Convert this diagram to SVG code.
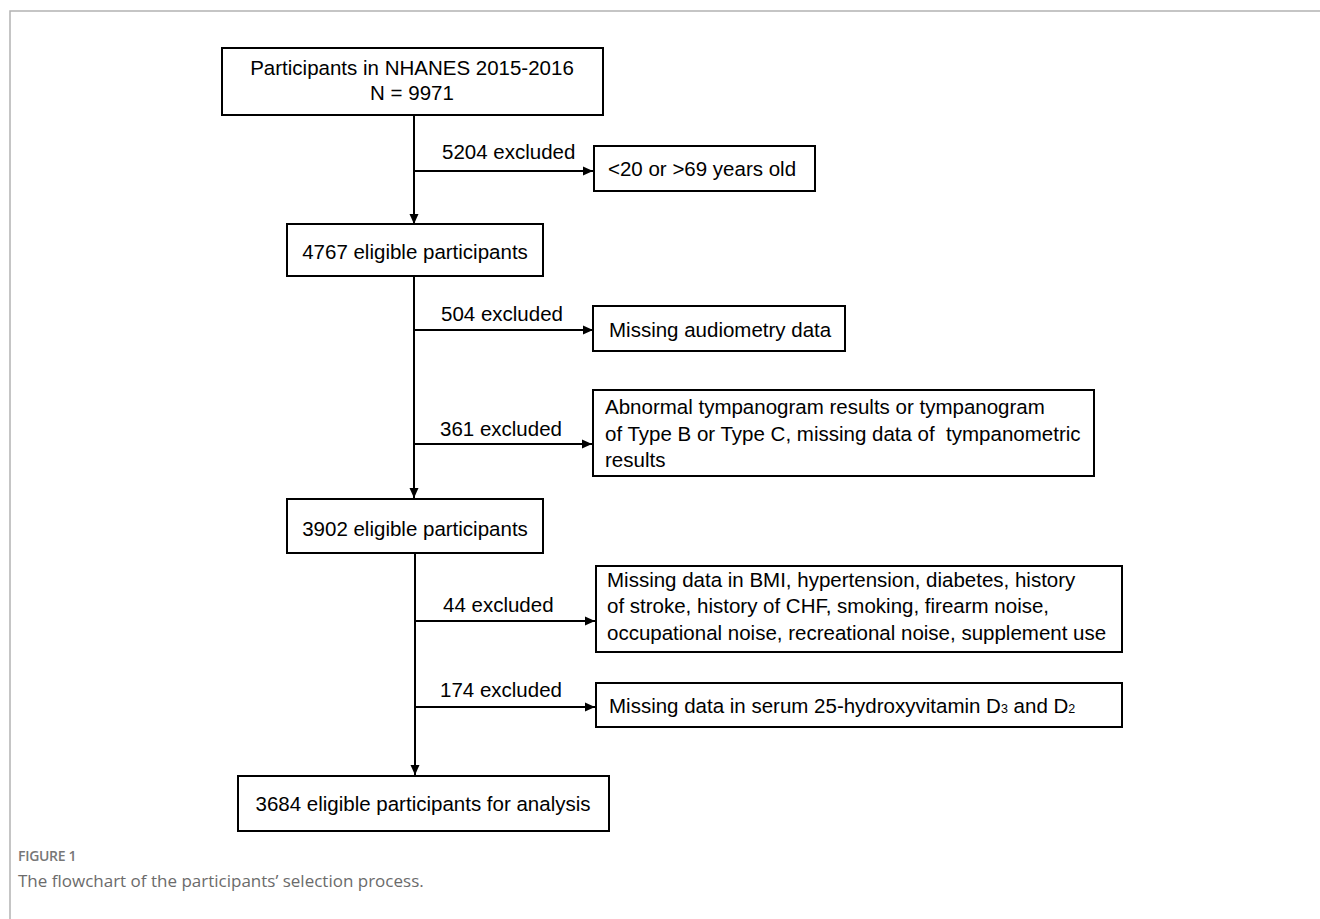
<svg xmlns="http://www.w3.org/2000/svg" width="1320" height="919" viewBox="0 0 1320 919">
<style>
.box{fill:#fff;stroke:#000;stroke-width:2}
.t{font-family:"Liberation Sans",Arial,sans-serif;font-size:20.5px;fill:#000}
.c{text-anchor:middle}
.conn{stroke:#000;stroke-width:2;fill:none}
.frame{stroke:#b3b3b3;stroke-width:1.5;fill:none}
.cap1{font-family:"Open Sans",Lato,sans-serif;font-size:14px;fill:#777;font-weight:600;letter-spacing:-0.3px}
.cap2{font-family:"Open Sans",Lato,sans-serif;font-size:17px;fill:#6b6b6b}
</style>
<defs>
<marker id="ah" markerUnits="userSpaceOnUse" markerWidth="12" markerHeight="11" refX="10" refY="5.5" orient="auto">
<path d="M0,1 L10,5.5 L0,10 z" fill="#000"/>
</marker>
</defs>
<rect width="1320" height="919" fill="#fff"/>
<path class="frame" d="M10,919 L10,11 L1320,11"/>
<g id="connectors">
<line class="conn" x1="414" y1="115" x2="414" y2="224" marker-end="url(#ah)"/>
<line class="conn" x1="414" y1="171" x2="593" y2="171" marker-end="url(#ah)"/>
<line class="conn" x1="414" y1="276" x2="414" y2="498" marker-end="url(#ah)"/>
<line class="conn" x1="414" y1="330" x2="593" y2="330" marker-end="url(#ah)"/>
<line class="conn" x1="414" y1="444" x2="592" y2="444" marker-end="url(#ah)"/>
<line class="conn" x1="415" y1="553" x2="415" y2="775" marker-end="url(#ah)"/>
<line class="conn" x1="415" y1="621" x2="595" y2="621" marker-end="url(#ah)"/>
<line class="conn" x1="415" y1="707" x2="595" y2="707" marker-end="url(#ah)"/>
<text class="t" x="442" y="159">5204 excluded</text>
<text class="t" x="441" y="321">504 excluded</text>
<text class="t" x="440" y="436">361 excluded</text>
<text class="t" x="443" y="612">44 excluded</text>
<text class="t" x="440" y="697">174 excluded</text>
</g>
<g id="n1">
<rect class="box" x="222" y="48" width="381" height="67"/>
<text class="t c" x="412" y="75">Participants in NHANES 2015-2016</text>
<text class="t c" x="412" y="100">N = 9971</text>
</g>
<g id="n2">
<rect class="box" x="594" y="146" width="221" height="45"/>
<text class="t" x="608" y="176">&lt;20 or &gt;69 years old</text>
</g>
<g id="n3">
<rect class="box" x="287" y="224" width="256" height="52"/>
<text class="t c" x="415" y="259">4767 eligible participants</text>
</g>
<g id="n4">
<rect class="box" x="593" y="306" width="252" height="45"/>
<text class="t" x="609" y="337">Missing audiometry data</text>
</g>
<g id="n5">
<rect class="box" x="593" y="390" width="501" height="86"/>
<text class="t" x="605" y="414">Abnormal tympanogram results or tympanogram</text>
<text class="t" x="605" y="441" xml:space="preserve">of Type B or Type C, missing data of  tympanometric</text>
<text class="t" x="605" y="467">results</text>
</g>
<g id="n6">
<rect class="box" x="287" y="499" width="256" height="54"/>
<text class="t c" x="415" y="536">3902 eligible participants</text>
</g>
<g id="n7">
<rect class="box" x="596" y="566" width="526" height="86"/>
<text class="t" x="607" y="587">Missing data in BMI, hypertension, diabetes, history</text>
<text class="t" x="607" y="613">of stroke, history of CHF, smoking, firearm noise,</text>
<text class="t" x="607" y="640">occupational noise, recreational noise, supplement use</text>
</g>
<g id="n8">
<rect class="box" x="596" y="683" width="526" height="44"/>
<text class="t" x="609" y="713">Missing data in serum 25-hydroxyvitamin D<tspan font-size="12.5">3</tspan> and D<tspan font-size="12.5">2</tspan></text>
</g>
<g id="n9">
<rect class="box" x="238" y="776" width="371" height="55"/>
<text class="t c" x="423" y="811">3684 eligible participants for analysis</text>
</g>
<g id="caption">
<text class="cap1" x="18" y="861">FIGURE 1</text>
<text class="cap2" x="18" y="887">The flowchart of the participants’ selection process.</text>
</g>
</svg>
